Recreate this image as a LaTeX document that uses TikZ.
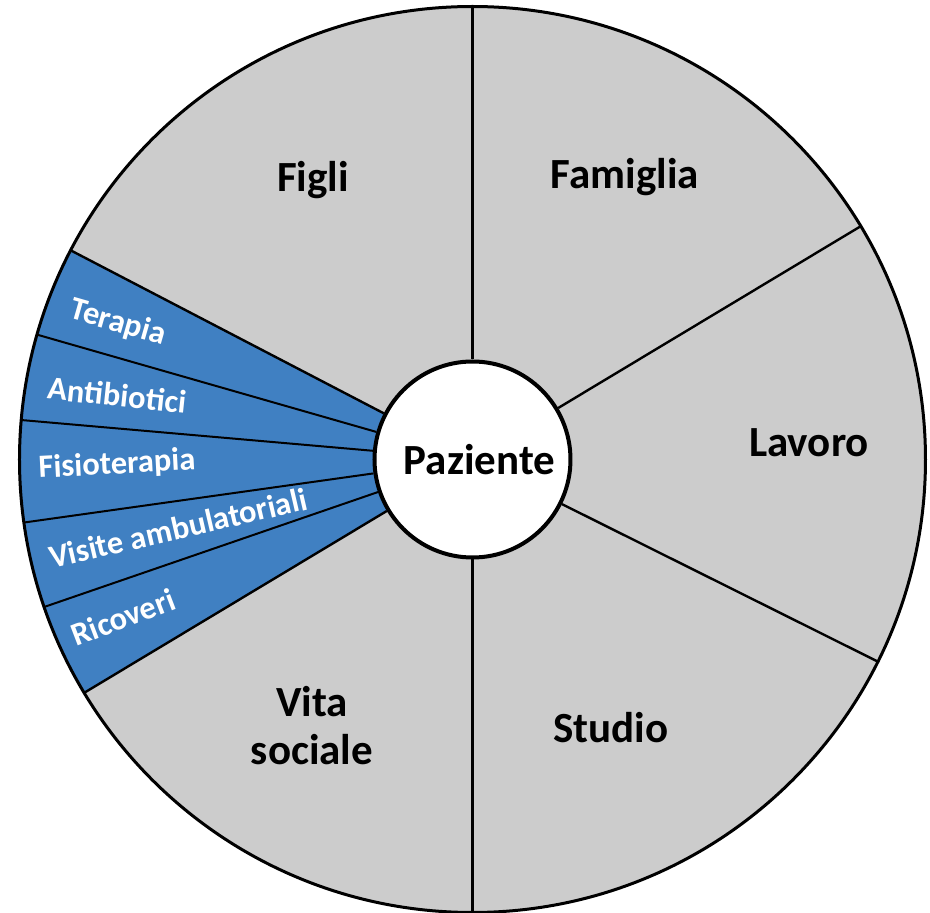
\documentclass[tikz,border=0pt]{standalone}
\usepackage{fontspec}
\setmainfont{Carlito}
\usetikzlibrary{positioning}
\definecolor{sectorgray}{RGB}{204,204,204}
\definecolor{careblue}{RGB}{64,128,194}
\tikzset{
  area/.style={font=\fontsize{43}{48}\selectfont\bfseries, align=center},
  care/.style={font=\fontsize{32.5}{38}\selectfont\bfseries, text=white, inner sep=0pt},
  spoke/.style={line width=2.4pt},
  thinspoke/.style={line width=2pt},
}
\begin{document}
\begin{tikzpicture}[x=1pt,y=1pt]
            \useasboundingbox (-472.5,-453.5) rectangle (457.5,459.5);
            %Sectors
            \fill[sectorgray] (0,0) circle (453);
            \fill[careblue] (0,0) -- (152.5:453) arc[start angle=152.5, end angle=211, radius=453] -- cycle;

            %Nodes
            \node[circle, draw, line width=4pt, fill=white, minimum size=196pt, inner sep=0pt, area] at (0,0) (pz) {\hspace{14pt}Paziente};
            \coordinate (top)  at (90:453);
            \coordinate (fam)  at (31:453);
            \coordinate (lav)  at (-26.5:453);
            \coordinate (bot)  at (270:453);
            \coordinate (b1)   at (152.5:453);
            \coordinate (b2)   at (164:453);
            \coordinate (b3)   at (175:453);
            \coordinate (b4)   at (188:453);
            \coordinate (b5)   at (199:453);
            \coordinate (b6)   at (211:453);

            \node[area] at (-159.5,279.5) (figli)   {Figli};
            \node[area] at (152.5,282.5)  (famiglia) {Famiglia};
            \node[area] at (336.5,16.5)   (lavoro)  {Lavoro};
            \node[area] at (138.5,-268.5) (studio)  {Studio};
            \node[area] at (-160.5,-266.5) (vita)   {Vita\\sociale};

            \node[care, rotate=-16] at (-354.5,136.5) (terapia) {Terapia};
            \node[care, rotate=-6]  at (-355.5,64.5)  (antib)   {Antibiotici};
            \node[care, rotate=3]   at (-355.5,-5.5)  (fisio)   {Fisioterapia};
            \node[care, rotate=13]  at (-294.5,-68.5) (visite)  {Visite ambulatoriali};
            \node[care, rotate=21]  at (-349.5,-157.5) (ricov)  {Ricoveri};

            %Lines
            \draw[spoke] (pz) -- (top);
            \draw[spoke] (pz) -- (fam);
            \draw[spoke] (pz) -- (lav);
            \draw[spoke] (pz) -- (bot);
            \draw[spoke] (pz) -- (b1);
            \draw[thinspoke] (pz) -- (b2);
            \draw[thinspoke] (pz) -- (b3);
            \draw[thinspoke] (pz) -- (b4);
            \draw[thinspoke] (pz) -- (b5);
            \draw[spoke] (pz) -- (b6);
            \draw[line width=3pt] (0,0) circle (453);
        \end{tikzpicture}
\end{document}
